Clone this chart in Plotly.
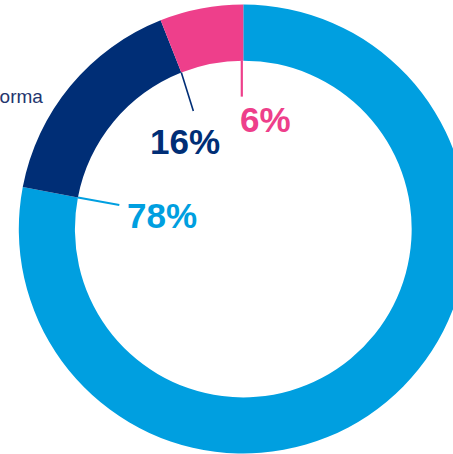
import plotly.graph_objects as go
import math

# ---- data ----
labels = ["Móvil", "Plataforma", "Otros"]
values = [78, 16, 6]
colors = ["#009FE0", "#002E76", "#EE3F8B"]
pct_text = ["78%", "16%", "6%"]

# ---- layout constants (pixels) ----
W, H = 500, 454
CX, CY, R = 243.3, 229.0, 224.5
HOLE = 0.75
# leader line: start shift (px), vector (px) from the slice end on the inner edge, label offset from line end
line_shift = [(0.0, 0.0), (0.0, 0.0), (-1.5, 0.0)]
line_vec = [(41.4, 7.6), (12.0, 38.5), (0.0, 36.0)]
label_off = [(42.5, 10.5), (-8.0, 30.2), (23.3, 22.5)]
line_w = [2, 1.6, 2.2]

fig = go.Figure(go.Pie(
    labels=labels, values=values, sort=False, direction="clockwise", rotation=0,
    hole=HOLE, textinfo="none", hoverinfo="label+percent",
    marker=dict(colors=colors, line=dict(width=0)),
    domain=dict(x=[(CX - R) / W, (CX + R) / W], y=[(H - CY - R) / H, (H - CY + R) / H]),
    showlegend=False,
))

def px2paper(x, y):
    return x / W, 1 - y / H

total = sum(values)
cum = 0
shapes, annots = [], []
r_in = R * HOLE
for i, v in enumerate(values):
    cum += v
    th = 2 * math.pi * cum / total
    sx = CX + r_in * math.sin(th) + line_shift[i][0]
    sy = CY - r_in * math.cos(th) + line_shift[i][1]
    ex, ey = sx + line_vec[i][0], sy + line_vec[i][1]
    x0, y0 = px2paper(sx, sy)
    x1, y1 = px2paper(ex, ey)
    shapes.append(dict(type="line", xref="paper", yref="paper", x0=x0, y0=y0, x1=x1, y1=y1,
                       line=dict(color=colors[i], width=line_w[i])))
    tx, ty = px2paper(ex + label_off[i][0], ey + label_off[i][1])
    annots.append(dict(x=tx, y=ty, xref="paper", yref="paper", text="<b>%s</b>" % pct_text[i],
                       showarrow=False, xanchor="center", yanchor="middle",
                       font=dict(family="Liberation Sans, Arial", size=35, color=colors[i])))

lx, ly = px2paper(45.0, 96.8)
annots.append(dict(x=lx, y=ly, xref="paper", yref="paper", text=labels[1], showarrow=False,
                   xanchor="right", yanchor="middle",
                   font=dict(family="Liberation Sans, Arial", size=19, color="#23356E")))

fig.update_layout(width=W, height=H, margin=dict(l=0, r=0, t=0, b=0),
                  paper_bgcolor="white", plot_bgcolor="white",
                  shapes=shapes, annotations=annots)

fig.write_html("out.html", config={"displayModeBar": False},
               post_script="document.body.style.margin='0';document.body.style.overflow='hidden';")
